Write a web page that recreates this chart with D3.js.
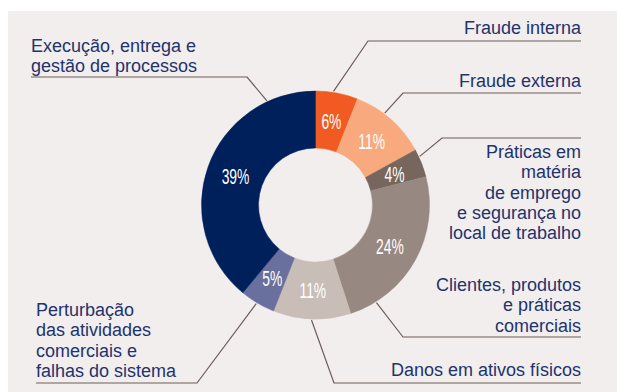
<!DOCTYPE html>
<html>
<head>
<meta charset="utf-8">
<script src="https://cdn.jsdelivr.net/npm/d3@7"></script>
<style>
  html, body { margin: 0; padding: 0; background: #ffffff; }
  svg { display: block; }
</style>
</head>
<body>
<svg id="chart" width="617" height="392"></svg>
<script>
// Loss events by category (share of total, %)
const categories = [
  "Fraude interna",
  "Fraude externa",
  "Práticas em matéria de emprego e segurança no local de trabalho",
  "Clientes, produtos e práticas comerciais",
  "Danos em ativos físicos",
  "Perturbação das atividades comerciais e falhas do sistema",
  "Execução, entrega e gestão de processos"
];
const values = [6, 11, 4, 24, 11, 5, 39];
const labelLines = [
  ["Fraude interna"],
  ["Fraude externa"],
  ["Práticas em", "matéria", "de emprego", "e segurança no", "local de trabalho"],
  ["Clientes, produtos", "e práticas", "comerciais"],
  ["Danos em ativos físicos"],
  ["Perturbação", "das atividades", "comerciais e", "falhas do sistema"],
  ["Execução, entrega e", "gestão de processos"]
];
const colors = ["#f15a22", "#f8a97d", "#77665e", "#978881", "#c9bdb8", "#6a709e", "#00205c"];

// Callout layout: side, text anchor x, first baseline, rule y, rule bend x, anchor angle on ring (deg)
const callouts = [
  { side: "right", x: 581, y: 34,  ruleY: 41,  ruleEnd: 368, angle: 9 },
  { side: "right", x: 581, y: 87,  ruleY: 93,  ruleEnd: 403, angle: 37 },
  { side: "right", x: 581, y: 158, ruleY: 138, ruleEnd: 442, angle: 65 },
  { side: "right", x: 581, y: 291, ruleY: 337, ruleEnd: 403, angle: 148 },
  { side: "right", x: 581, y: 376, ruleY: 383, ruleEnd: 334, angle: 182 },
  { side: "left",  x: 36,  y: 316, ruleY: 383, ruleEnd: 197, angle: 211 },
  { side: "left",  x: 31,  y: 52,  ruleY: 77,  ruleEnd: 247, angle: 335 }
];

const W = 617, H = 392;
const cx = 315.5, cy = 205, rOuter = 114, rInner = 57;
const textColor = "#1f336d";
const ruleColor = "#6e5c57";
const labelFont = "'Liberation Sans', Arial, sans-serif";

const svg = d3.select("#chart");

// panel background
svg.append("rect")
  .attr("x", 8).attr("y", 11)
  .attr("width", W - 8).attr("height", H - 11)
  .attr("fill", "#f1eeed");

const data = categories.map((c, i) => ({ name: c, value: values[i], color: colors[i], lines: labelLines[i], layout: callouts[i] }));

const pie = d3.pie().value(d => d.value).sort(null).startAngle(0).endAngle(2 * Math.PI);
const arcs = pie(data);
const arc = d3.arc().innerRadius(rInner).outerRadius(rOuter);
const labelArc = d3.arc().innerRadius(85).outerRadius(85);

const g = svg.append("g").attr("transform", `translate(${cx},${cy})`);

g.selectAll("path.slice")
  .data(arcs)
  .join("path")
  .attr("class", "slice")
  .attr("d", arc)
  .attr("fill", d => d.data.color)
  .attr("stroke", d => d.data.color)
  .attr("stroke-width", 0.5);

// percentage labels inside the ring (condensed)
g.selectAll("text.pct")
  .data(arcs)
  .join("text")
  .attr("class", "pct")
  .attr("transform", d => {
    const [x, y] = labelArc.centroid(d);
    return `translate(${x},${y}) scale(0.63,1)`;
  })
  .attr("text-anchor", "middle")
  .attr("dy", "0.36em")
  .attr("font-family", labelFont)
  .attr("font-size", 22)
  .attr("fill", "#ffffff")
  .text(d => d.data.value + "%");

// leader lines
const leaders = svg.append("g")
  .attr("fill", "none")
  .attr("stroke", ruleColor)
  .attr("stroke-width", 1.2);

data.forEach(d => {
  const L = d.layout;
  const a = L.angle * Math.PI / 180;
  const px = cx + (rOuter + 1) * Math.sin(a);
  const py = cy - (rOuter + 1) * Math.cos(a);
  const pts = [[px, py], [L.ruleEnd, L.ruleY], [L.x, L.ruleY]];
  leaders.append("path").attr("d", d3.line()(pts));
});

// category labels
const labels = svg.append("g")
  .attr("font-family", labelFont)
  .attr("font-size", 18)
  .attr("fill", textColor);

data.forEach(d => {
  const L = d.layout;
  const t = labels.append("text")
    .attr("text-anchor", L.side === "right" ? "end" : "start")
    .attr("x", L.x)
    .attr("y", L.y);
  d.lines.forEach((line, i) => {
    t.append("tspan")
      .attr("x", L.x)
      .attr("dy", i === 0 ? 0 : 20.3)
      .text(line);
  });
});
</script>
</body>
</html>
